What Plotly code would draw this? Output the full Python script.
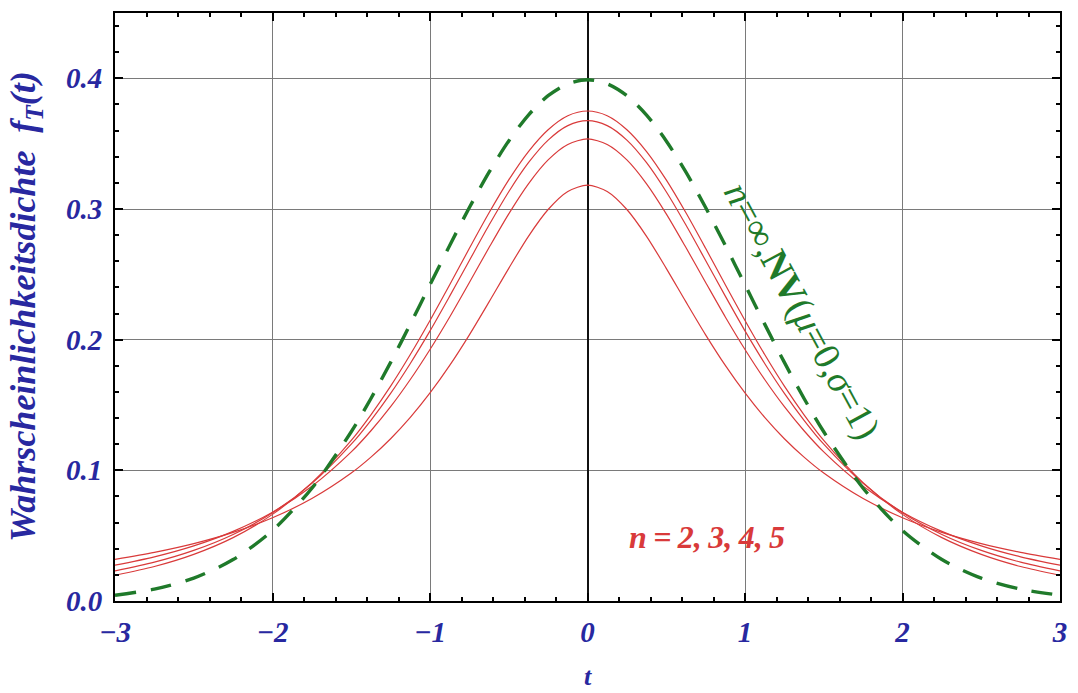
import plotly.graph_objects as go

# t values at which the densities are tabulated
t_half = [0.0, 0.125, 0.25, 0.375, 0.5, 0.625, 0.75, 0.875, 1.0, 1.125, 1.25, 1.375, 1.5,
          1.75, 2.0, 2.25, 2.5, 2.75, 3.0]

# Student-t densities for t >= 0 (curves are symmetric, mirrored below)
half_n2 = [0.3183, 0.3134, 0.2996, 0.2791, 0.2546, 0.2289, 0.2037, 0.1803, 0.1592, 0.1405,
           0.1242, 0.1101, 0.0979, 0.0784, 0.0637, 0.0525, 0.0439, 0.0372, 0.0318]
half_n3 = [0.3536, 0.3494, 0.3376, 0.3193, 0.2963, 0.2705, 0.2438, 0.2174, 0.1925, 0.1695,
           0.1487, 0.1303, 0.1141, 0.0878, 0.0680, 0.0533, 0.0422, 0.0338, 0.0274]
half_n4 = [0.3676, 0.3638, 0.3527, 0.3354, 0.3132, 0.2877, 0.2606, 0.2333, 0.2067, 0.1818,
           0.1589, 0.1383, 0.1200, 0.0900, 0.0675, 0.0509, 0.0387, 0.0297, 0.0230]
half_n5 = [0.3750, 0.3714, 0.3607, 0.3440, 0.3223, 0.2971, 0.2699, 0.2420, 0.2147, 0.1886,
           0.1644, 0.1425, 0.1229, 0.0905, 0.0663, 0.0485, 0.0357, 0.0264, 0.0197]
# standard normal density
half_nv = [0.3989, 0.3958, 0.3867, 0.3719, 0.3521, 0.3282, 0.3011, 0.2721, 0.2420, 0.2119,
           0.1826, 0.1550, 0.1295, 0.0863, 0.0540, 0.0317, 0.0175, 0.0091, 0.0044]

x_ticks = [-3, -2, -1, 0, 1, 2, 3]
y_ticks = [0.0, 0.1, 0.2, 0.3, 0.4]
y_tick_text = ["0.0", "0.1", "0.2", "0.3", "0.4"]


def mirror_x(xs):
    return [-v for v in xs[:0:-1]] + xs


def mirror_y(ys):
    return ys[:0:-1] + ys


RED = "#d93a3a"
GREEN = "#1f7a2a"
BLUE = "#2828a0"
SERIF = "Liberation Serif"

t_full = mirror_x(t_half)

fig = go.Figure()
for half in (half_n2, half_n3, half_n4, half_n5):
    fig.add_trace(go.Scatter(x=t_full, y=mirror_y(half), mode="lines",
                             line=dict(color=RED, width=1.2, shape="spline", smoothing=0.8),
                             showlegend=False, hoverinfo="skip"))
fig.add_trace(go.Scatter(x=t_full, y=mirror_y(half_nv), mode="lines",
                         line=dict(color=GREEN, width=3.4, dash="21px,15px",
                                   shape="spline", smoothing=0.8),
                         showlegend=False, hoverinfo="skip"))

tickfont = dict(family=SERIF, size=29, color=BLUE, weight="bold", style="italic")

fig.update_xaxes(range=[-3, 3], tickvals=x_ticks, tickfont=tickfont,
                 showgrid=True, gridcolor="#7a7a7a", gridwidth=1,
                 zeroline=True, zerolinecolor="#111111", zerolinewidth=1.5,
                 showline=True, linecolor="black", linewidth=2, mirror="allticks",
                 ticks="inside", ticklen=8, tickcolor="black", tickwidth=1.5,
                 minor=dict(dtick=0.2, ticks="inside", ticklen=4, tickcolor="black", showgrid=False),
                 ticklabelstandoff=4)
fig.update_yaxes(range=[0, 0.45], tickvals=y_ticks, ticktext=y_tick_text, tickfont=tickfont,
                 showgrid=True, gridcolor="#7a7a7a", gridwidth=1,
                 zeroline=False,
                 showline=True, linecolor="black", linewidth=2, mirror="allticks",
                 ticks="inside", ticklen=8, tickcolor="black", tickwidth=1.5,
                 minor=dict(dtick=0.02, ticks="inside", ticklen=4, tickcolor="black", showgrid=False),
                 ticklabelstandoff=5)

fig.add_annotation(xref="paper", yref="paper", x=0, y=0.5, xshift=-90, xanchor="center",
                   yanchor="middle",
                   text="Wahrscheinlichkeitsdichte  <i>f</i><sub>T</sub>(<i>t</i>)",
                   textangle=-90, showarrow=False,
                   font=dict(family=SERIF, size=36, color=BLUE, weight="bold", style="italic"))
fig.add_annotation(xref="paper", yref="paper", x=0.5, y=0, yshift=-75, yanchor="middle",
                   text="t", showarrow=False,
                   font=dict(family=SERIF, size=26, color=BLUE, weight="bold", style="italic"))

fig.add_annotation(x=1.36, y=0.222,
                   text="<i>n</i>=∞,<b>NV</b>(<i>μ</i>=0,<i>σ</i>=1)",
                   textangle=61.5, showarrow=False,
                   font=dict(family=SERIF, size=38, color=GREEN))
fig.add_annotation(x=0.76, y=0.049, text="n\u2009=\u20092,\u20093,\u20094,\u20095", showarrow=False,
                   font=dict(family=SERIF, size=32, color=RED, weight="bold", style="italic"))

fig.update_layout(width=1078, height=693, margin=dict(l=115, r=11, t=13, b=92),
                  plot_bgcolor="white", paper_bgcolor="white")

fig.write_html("out.html")
